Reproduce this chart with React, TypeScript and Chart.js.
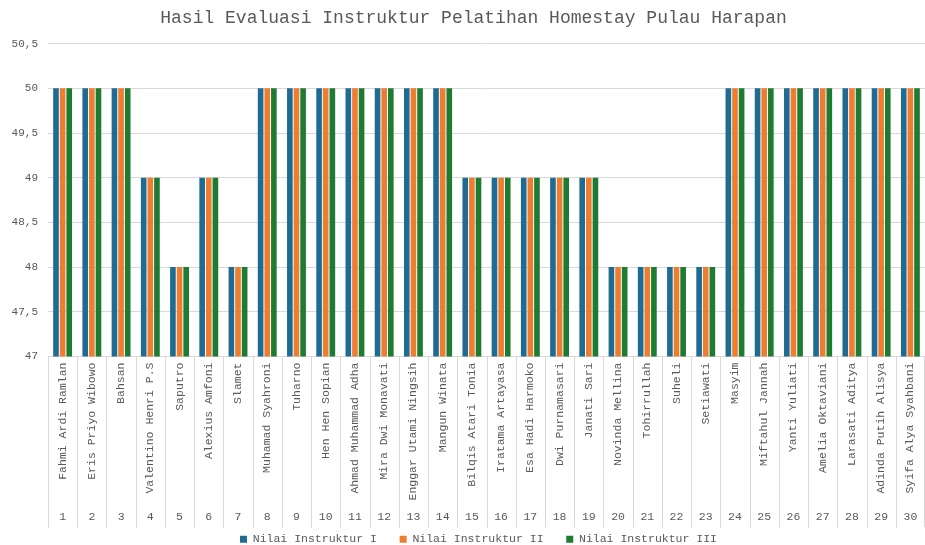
import React, { useEffect, useRef } from "react";
import { Chart, registerables } from "chart.js";

Chart.register(...registerables);

const names: string[] = [
  "Fahmi Ardi Ramlan", "Eris Priyo Wibowo", "Bahsan", "Valentino Henri P.S", "Saputro",
  "Alexius Amfoni", "Slamet", "Muhamad Syahroni", "Tuharno", "Hen Hen Sopian",
  "Ahmad Muhammad Adha", "Mira Dwi Monavati", "Enggar Utami Ningsih", "Mangun Winata", "Bilqis Atari Tonia",
  "Iratama Artayasa", "Esa Hadi Harmoko", "Dwi Purnamasari", "Janati Sari", "Novinda Mellina",
  "Tohirrullah", "Suheli", "Setiawati", "Masyim", "Miftahul Jannah",
  "Yanti Yuliati", "Amelia Oktaviani", "Larasati Aditya", "Adinda Putih Alisya", "Syifa Alya Syahbani",
];
const numbers: string[] = names.map((_, i) => String(i + 1));

const nilaiI: number[] = [50, 50, 50, 49, 48, 49, 48, 50, 50, 50, 50, 50, 50, 50, 49, 49, 49, 49, 49, 48, 48, 48, 48, 50, 50, 50, 50, 50, 50, 50];
const nilaiII: number[] = [50, 50, 50, 49, 48, 49, 48, 50, 50, 50, 50, 50, 50, 50, 49, 49, 49, 49, 49, 48, 48, 48, 48, 50, 50, 50, 50, 50, 50, 50];
const nilaiIII: number[] = [50, 50, 50, 49, 48, 49, 48, 50, 50, 50, 50, 50, 50, 50, 49, 49, 49, 49, 49, 48, 48, 48, 48, 50, 50, 50, 50, 50, 50, 50];

const seriesNames = ["Nilai Instruktur I", "Nilai Instruktur II", "Nilai Instruktur III"];
const colors = ["#1F6B92", "#ED7D31", "#1E7B32"];

const FONT = "'Liberation Mono', 'Courier New', monospace";
const TEXT = "#595959";
const GRID = "#D9D9D9";

const separatorPlugin = {
  id: "separators",
  afterLayout(chart: any) {
    // Excel-style centering of the title and legend over the whole figure
    const t = chart.titleBlock;
    if (t) { t.left += 11; t.right += 11; }
    const l = chart.legend;
    if (l) { l.left += 16; l.right += 16; l.top += 10; l.bottom += 10; }
  },
  afterDraw(chart: any) {
    const xs = chart.scales.x;
    const x2 = chart.scales.x2;
    const ctx = chart.ctx;
    const n = names.length;
    ctx.save();
    ctx.strokeStyle = GRID;
    ctx.lineWidth = 1;
    const top = chart.chartArea.bottom;
    const bottom = x2.bottom + 6;
    ctx.beginPath();
    for (let i = 0; i <= n; i++) {
      let px: number;
      if (i === 0) px = xs.left;
      else if (i === n) px = xs.right - 1;
      else px = (xs.getPixelForValue(i - 1) + xs.getPixelForValue(i)) / 2;
      px = Math.round(px) + 0.5;
      ctx.moveTo(px, top);
      ctx.lineTo(px, bottom);
    }
    ctx.stroke();
    ctx.restore();
  },
};

export default function App() {
  const ref = useRef<HTMLCanvasElement | null>(null);
  useEffect(() => {
    document.body.style.margin = "0";
    if (!ref.current) return;
    const chart = new Chart(ref.current, {
      type: "bar",
      data: {
        labels: names,
        datasets: [nilaiI, nilaiII, nilaiIII].map((d, i) => ({
          label: seriesNames[i],
          data: d,
          backgroundColor: colors[i],
          borderWidth: 0,
          categoryPercentage: 0.68,
          barPercentage: 0.85,
        })),
      },
      options: {
        animation: false,
        responsive: false,
        maintainAspectRatio: false,
        layout: { padding: { left: 0, right: 0, top: 0, bottom: 0 } },
        plugins: {
          title: {
            display: true,
            text: "Hasil Evaluasi Instruktur Pelatihan Homestay Pulau Harapan",
            color: TEXT,
            font: { family: FONT, size: 18, weight: "normal" },
            padding: { top: 7, bottom: 15 },
          },
          legend: {
            position: "bottom",
            labels: {
              boxWidth: 7,
              boxHeight: 7,
              color: TEXT,
              font: { family: FONT, size: 11.5 },
              padding: 2,
              generateLabels: (c: any) =>
                Chart.defaults.plugins.legend.labels
                  .generateLabels(c)
                  .map((l: any, i: number) => ({ ...l, text: i < 2 ? l.text + "   " : l.text })),
            },
          },
          tooltip: { enabled: false },
        },
        scales: {
          x: {
            type: "category",
            position: "bottom",
            weight: 0,
            grid: { display: false, drawTicks: false },
            border: { display: true, color: GRID },
            ticks: {
              autoSkip: false,
              minRotation: 90,
              maxRotation: 90,
              color: TEXT,
              font: { family: FONT, size: 11.5 },
              padding: 6,
            },
            afterFit: (s: any) => {
              s.height = 151;
              s.paddingLeft = 0;
              s.paddingRight = 0;
            },
          },
          x2: {
            type: "category",
            labels: numbers,
            position: "bottom",
            weight: 1,
            offset: true,
            grid: { display: false, drawTicks: false },
            border: { display: false },
            ticks: {
              autoSkip: false,
              maxRotation: 0,
              color: TEXT,
              font: { family: FONT, size: 11.5 },
              padding: 3,
            },
            afterFit: (s: any) => {
              s.height = 14;
              s.paddingLeft = 0;
              s.paddingRight = 0;
            },
          },
          y: {
            min: 47,
            max: 50.5,
            grid: { color: GRID, drawTicks: false },
            border: { display: false },
            ticks: {
              stepSize: 0.5,
              color: TEXT,
              font: { family: FONT, size: 11 },
              padding: 10,
              callback: (v: any) => String(v).replace(".", ","),
            },
            afterFit: (s: any) => { s.width = 48; },
          },
        },
      },
      plugins: [separatorPlugin],
    } as any);
    return () => chart.destroy();
  }, []);
  return (
    <div style={{ width: 925, height: 545 }}>
      <canvas ref={ref} width={925} height={545} style={{ display: "block" }} />
    </div>
  );
}
